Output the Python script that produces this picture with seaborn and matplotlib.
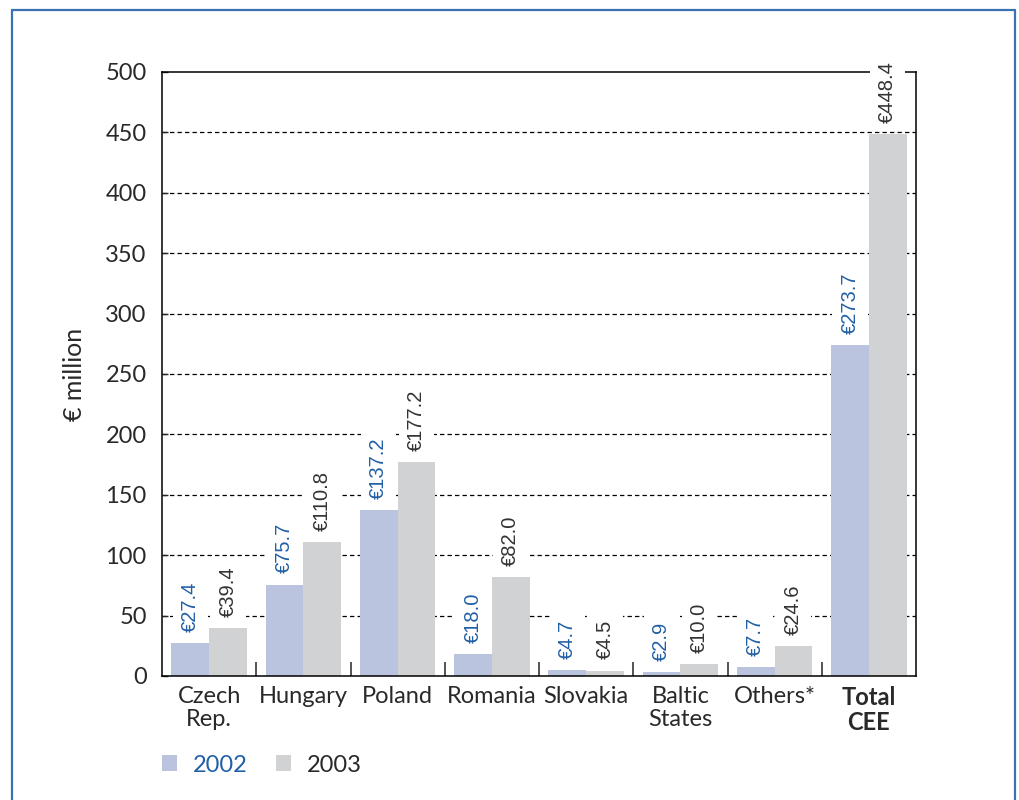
import matplotlib
matplotlib.use('Agg')
import matplotlib.pyplot as plt
from matplotlib.lines import Line2D
from matplotlib.patches import Patch
import pandas as pd
import seaborn as sns

# chart data
regions = ['Czech\nRep.', 'Hungary', 'Poland', 'Romania', 'Slovakia',
           'Baltic\nStates', 'Others*', 'Total\nCEE']
values_2002 = [27.4, 75.7, 137.2, 18.0, 4.7, 2.9, 7.7, 273.7]
values_2003 = [39.4, 110.8, 177.2, 82.0, 4.5, 10.0, 24.6, 448.4]
years = ['2002', '2003']
y_ticks = [0, 50, 100, 150, 200, 250, 300, 350, 400, 450, 500]

df = pd.DataFrame({
    'region': regions * 2,
    'value': values_2002 + values_2003,
    'year': ['2002'] * len(regions) + ['2003'] * len(regions),
})

blue_bar = '#BAC4DE'
grey_bar = '#D1D2D4'
blue_txt = '#2160A6'
dark_txt = '#2B2829'
frame_col = '#3B72B2'

sns.set_style('white')
plt.rcParams['font.family'] = ['Lato', 'DejaVu Sans']

fig = plt.figure(figsize=(10.19, 8), dpi=100)
ax = fig.add_axes([162 / 1019, 1 - 676 / 800, (916 - 162) / 1019, (676 - 72) / 800])

sns.barplot(data=df, x='region', y='value', hue='year', palette=[blue_bar, grey_bar],
            saturation=1, width=0.8, ax=ax, legend=False, linewidth=0, edgecolor='none')

ax.set_ylim(0, 500)
ax.set_xlim(-0.5, len(regions) - 0.5)
ax.set_yticks(y_ticks)
ax.set_yticklabels([str(t) for t in y_ticks], fontsize=17, color=dark_txt)
ax.set_xticks(range(len(regions)))
ax.set_xticklabels(regions, fontsize=17, color=dark_txt, linespacing=1.12)
ax.get_xticklabels()[-1].set_fontweight('bold')
ax.set_xlabel('')
ax.set_ylabel('€ million', fontsize=18, color=dark_txt, labelpad=14)

# dashed gridlines behind the bars
ax.set_axisbelow(True)
for t in y_ticks[1:-1]:
    ax.axhline(t, color='black', lw=0.9, ls=(0, (3.5, 2.5)), zorder=0)

for s in ax.spines.values():
    s.set_visible(True)
    s.set_color('black')
    s.set_linewidth(1.1)

ax.tick_params(axis='y', direction='in', length=4, width=1, pad=11, left=True)
ax.tick_params(axis='x', which='major', length=0, pad=7)
ax.set_xticks([i + 0.5 for i in range(len(regions) - 1)], minor=True)
ax.tick_params(axis='x', which='minor', direction='in', length=10, width=1.1, bottom=True)

# value labels above bars
for cont, col in zip(ax.containers, [blue_txt, '#333333']):
    for bar in cont:
        h = bar.get_height()
        ax.annotate(f'€{h:.1f}', (bar.get_x() + bar.get_width() / 2, h),
                    xytext=(0, 8), textcoords='offset points', rotation=90,
                    ha='center', va='bottom', fontsize=14.5, color=col,
                    family=['Liberation Sans', 'DejaVu Sans'], zorder=5, clip_on=False,
                    bbox=dict(boxstyle='square,pad=0.4', fc='white', ec='none'))

# legend below the chart
handles = [Patch(facecolor=blue_bar, edgecolor='none'), Patch(facecolor=grey_bar, edgecolor='none')]
leg = fig.legend(handles, years, loc='center left', bbox_to_anchor=(162 / 1019, 1 - 765 / 800),
                 ncol=2, frameon=False, fontsize=17, handlelength=0.65, handleheight=0.65,
                 handletextpad=0.65, columnspacing=1.2, borderpad=0, borderaxespad=0)
for txt, col in zip(leg.get_texts(), [blue_txt, dark_txt]):
    txt.set_color(col)

# blue page frame
fig.add_artist(Line2D([12 / 1019, 12 / 1019], [0, 1 - 10 / 800], color=frame_col, lw=1.6,
                      transform=fig.transFigure))
fig.add_artist(Line2D([12 / 1019, 1015 / 1019], [1 - 10 / 800, 1 - 10 / 800], color=frame_col,
                      lw=1.6, transform=fig.transFigure))
fig.add_artist(Line2D([1015 / 1019, 1015 / 1019], [0, 1 - 10 / 800], color=frame_col, lw=1.6,
                      transform=fig.transFigure))

fig.savefig('out.png', dpi=100, facecolor='white')
